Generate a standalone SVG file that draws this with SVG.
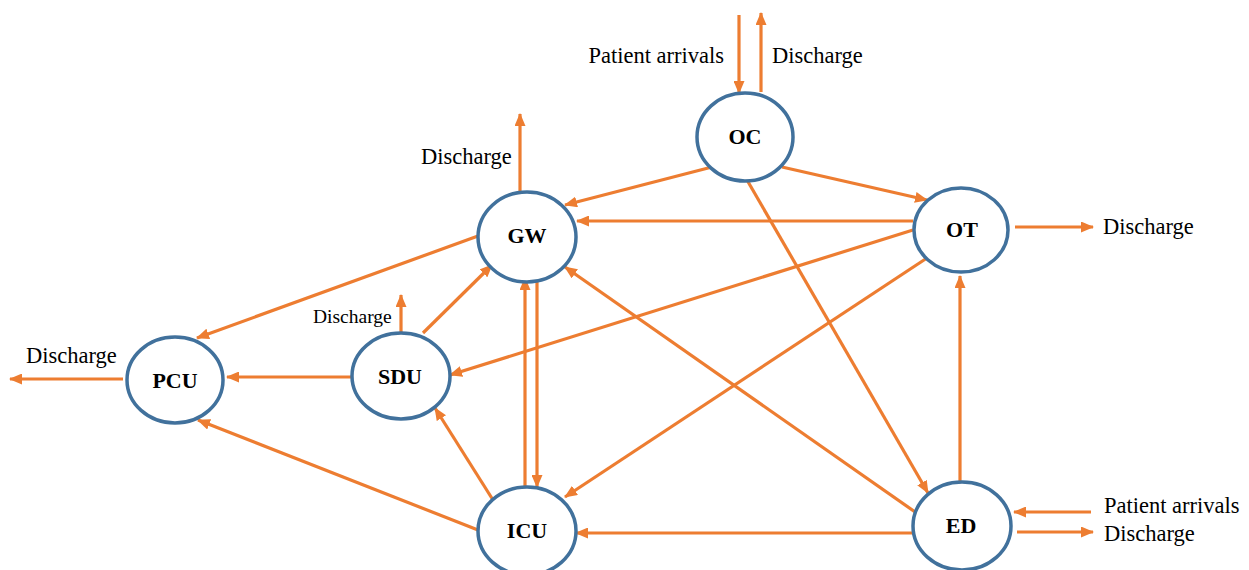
<svg xmlns="http://www.w3.org/2000/svg" width="1249" height="570" viewBox="0 0 1249 570">
<style>
.node{fill:#fff;stroke:#41719C;stroke-width:3.5}
.nl{font-family:"Liberation Serif",serif;font-weight:bold;font-size:22px;text-anchor:middle;fill:#000}
.lb{font-family:"Liberation Serif",serif;font-size:22.5px;fill:#000}
.e{stroke:#ED7D31;stroke-width:3.2;fill:none;marker-end:url(#ah)}
</style>
<defs>
<marker id="ah" markerUnits="userSpaceOnUse" viewBox="0 0 13 11" refX="12" refY="5.5" markerWidth="13" markerHeight="11" orient="auto">
<path d="M0,0 L13,5.5 L0,11 z" fill="#ED7D31"/>
</marker>
</defs>
<rect width="1249" height="570" fill="#fff"/>
<g id="connectors">
<line class="e" x1="739" y1="15" x2="739" y2="93"/>
<line class="e" x1="761" y1="92" x2="761" y2="13"/>
<line class="e" x1="712" y1="167" x2="565" y2="205"/>
<line class="e" x1="782" y1="167" x2="927" y2="200"/>
<line class="e" x1="747" y1="180" x2="928" y2="493"/>
<line class="e" x1="913" y1="221" x2="577" y2="221"/>
<line class="e" x1="913" y1="230" x2="450" y2="375"/>
<line class="e" x1="927" y1="258" x2="565" y2="497"/>
<line class="e" x1="1015" y1="227" x2="1093" y2="227"/>
<line class="e" x1="520" y1="192" x2="520" y2="114"/>
<line class="e" x1="478" y1="236" x2="197" y2="338"/>
<line class="e" x1="423" y1="333" x2="492" y2="265"/>
<line class="e" x1="401" y1="333" x2="401" y2="295"/>
<line class="e" x1="353" y1="377" x2="227" y2="377"/>
<line class="e" x1="123" y1="379" x2="10" y2="379"/>
<line class="e" x1="478" y1="530" x2="198" y2="420"/>
<line class="e" x1="493" y1="500" x2="435" y2="408"/>
<line class="e" x1="525" y1="487" x2="525" y2="278"/>
<line class="e" x1="537" y1="280" x2="537" y2="487"/>
<line class="e" x1="918" y1="514" x2="565" y2="267"/>
<line class="e" x1="960" y1="483" x2="960" y2="276"/>
<line class="e" x1="913" y1="533" x2="576" y2="533"/>
<line class="e" x1="1091" y1="512" x2="1014" y2="512"/>
<line class="e" x1="1017" y1="532" x2="1093" y2="532"/>
</g>
<g id="OC"><ellipse class="node" cx="745" cy="137" rx="48" ry="44"/><text class="nl" x="745" y="144">OC</text></g>
<g id="GW"><ellipse class="node" cx="527" cy="237" rx="49" ry="45"/><text class="nl" x="527" y="243">GW</text></g>
<g id="OT"><ellipse class="node" cx="961" cy="230" rx="47" ry="42"/><text class="nl" x="962" y="237">OT</text></g>
<g id="PCU"><ellipse class="node" cx="175" cy="380" rx="48" ry="43"/><text class="nl" x="175" y="388">PCU</text></g>
<g id="SDU"><ellipse class="node" cx="401" cy="376" rx="49" ry="43"/><text class="nl" x="400" y="384">SDU</text></g>
<g id="ICU"><ellipse class="node" cx="527" cy="531" rx="49" ry="44"/><text class="nl" x="527" y="538">ICU</text></g>
<g id="ED"><ellipse class="node" cx="962" cy="526" rx="49" ry="44"/><text class="nl" x="961" y="533">ED</text></g>
<g id="labels">
<text class="lb" x="724" y="63" text-anchor="end">Patient arrivals</text>
<text class="lb" x="772" y="63">Discharge</text>
<text class="lb" x="421" y="164">Discharge</text>
<text class="lb" x="1103" y="234">Discharge</text>
<text class="lb" x="26" y="363">Discharge</text>
<text class="lb" x="313" y="323" style="font-size:19.5px">Discharge</text>
<text class="lb" x="1104" y="513">Patient arrivals</text>
<text class="lb" x="1104" y="541">Discharge</text>
</g>
</svg>
